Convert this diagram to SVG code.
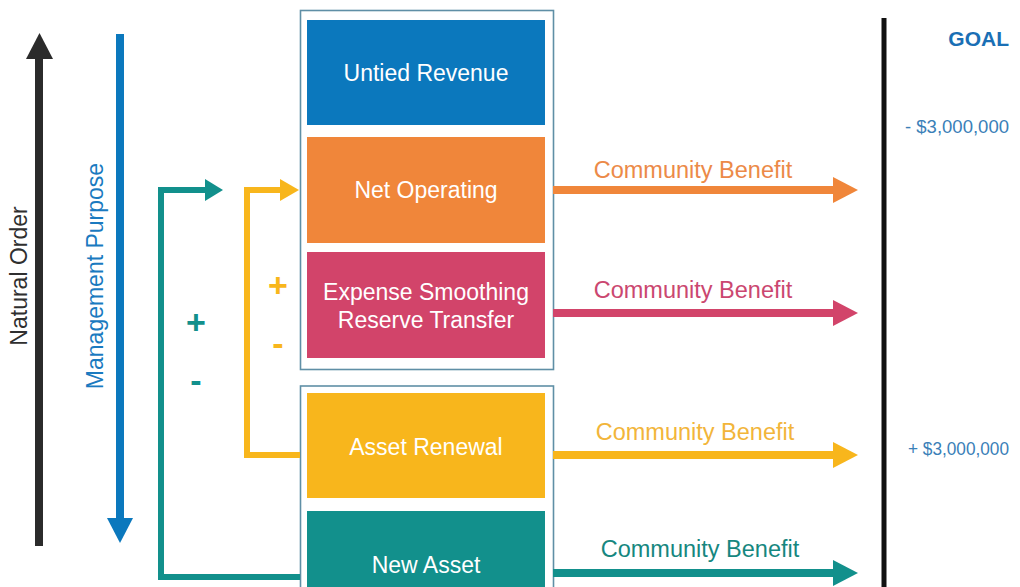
<svg xmlns="http://www.w3.org/2000/svg" width="1020" height="587" viewBox="0 0 1020 587">
<style>
text{font-family:"Liberation Sans",Arial,sans-serif}
.box-label{fill:#fff;font-size:23px;text-anchor:middle}
.cb{font-size:23.5px;text-anchor:middle}
.frame{fill:none;stroke:#5f8fa6;stroke-width:1.6}
.amt{fill:#3a80b8;font-size:18px}
.pm{font-size:34px;font-weight:bold;text-anchor:middle}
</style>
<rect width="1020" height="587" fill="#fff"/>

<g id="side-arrows">
  <line x1="39" y1="546" x2="39" y2="56" stroke="#2b2b2b" stroke-width="8"/>
  <polygon points="26,59 39.5,33 53,59" fill="#2b2b2b"/>
  <text transform="translate(27,276) rotate(-90)" font-size="23" fill="#2f2f2f" text-anchor="middle">Natural Order</text>
  <line x1="120" y1="34" x2="120" y2="521" stroke="#0b78bd" stroke-width="8"/>
  <polygon points="107,518 120,543 133,518" fill="#0b78bd"/>
  <text transform="translate(103,276) rotate(-90)" font-size="23" fill="#1a7ac0" text-anchor="middle">Management Purpose</text>
</g>

<g id="frames">
  <rect class="frame" x="300.5" y="10.5" width="253" height="359"/>
  <rect class="frame" x="300.5" y="386" width="253" height="210"/>
</g>

<g id="untied-revenue">
  <rect x="307" y="20" width="238" height="105" fill="#0b78bd"/>
  <text class="box-label" x="426" y="81">Untied Revenue</text>
</g>
<g id="net-operating">
  <rect x="307" y="137" width="238" height="106" fill="#f0863a"/>
  <text class="box-label" x="426" y="198">Net Operating</text>
</g>
<g id="expense-smoothing">
  <rect x="307" y="252" width="238" height="106" fill="#d2446a"/>
  <text class="box-label" x="426" y="300">Expense Smoothing</text>
  <text class="box-label" x="426" y="328">Reserve Transfer</text>
</g>
<g id="asset-renewal">
  <rect x="307" y="393" width="238" height="105" fill="#f8b61c"/>
  <text class="box-label" x="426" y="455">Asset Renewal</text>
</g>
<g id="new-asset">
  <rect x="307" y="511" width="238" height="85" fill="#12908c"/>
  <text class="box-label" x="426" y="573">New Asset</text>
</g>

<g id="connectors">
  <polyline points="300,577 161,577 161,190 207,190" fill="none" stroke="#12908c" stroke-width="6"/>
  <polygon points="205,179 223,190 205,201" fill="#12908c"/>
  <polyline points="300,455 247,455 247,190 282,190" fill="none" stroke="#f8b61c" stroke-width="6"/>
  <polygon points="280,179 299,190 280,201" fill="#f8b61c"/>

  <line x1="553" y1="190" x2="835" y2="190" stroke="#f0863a" stroke-width="8"/>
  <polygon points="833,177 858,190 833,203" fill="#f0863a"/>
  <line x1="553" y1="313" x2="835" y2="313" stroke="#d2446a" stroke-width="8"/>
  <polygon points="833,300 858,313 833,326" fill="#d2446a"/>
  <line x1="553" y1="455" x2="835" y2="455" stroke="#f8b61c" stroke-width="8"/>
  <polygon points="833,442 858,455 833,468" fill="#f8b61c"/>
  <line x1="553" y1="573" x2="835" y2="573" stroke="#12908c" stroke-width="8"/>
  <polygon points="833,560 858,573 833,586" fill="#12908c"/>
</g>

<g id="connector-labels">
  <text class="cb" x="693" y="178" fill="#ec8a48">Community Benefit</text>
  <text class="cb" x="693" y="298" fill="#cb4770">Community Benefit</text>
  <text class="cb" x="695" y="440" fill="#f2b53a">Community Benefit</text>
  <text class="cb" x="700" y="557" fill="#16877f">Community Benefit</text>
  <text class="pm" x="196" y="334" fill="#12908c">+</text>
  <text class="pm" x="196" y="392" fill="#12908c">-</text>
  <text class="pm" x="278" y="297" fill="#f8b61c">+</text>
  <text class="pm" x="278" y="355" fill="#f8b61c">-</text>
</g>

<g id="goal">
  <line x1="884" y1="18" x2="884" y2="590" stroke="#111" stroke-width="5"/>
  <text x="1009" y="46" font-size="21" font-weight="bold" fill="#1a6fb5" text-anchor="end">GOAL</text>
  <text class="amt" x="905" y="133" textLength="104" lengthAdjust="spacingAndGlyphs">- $3,000,000</text>
  <text class="amt" x="908" y="455" textLength="101" lengthAdjust="spacingAndGlyphs">+ $3,000,000</text>
</g>
</svg>
